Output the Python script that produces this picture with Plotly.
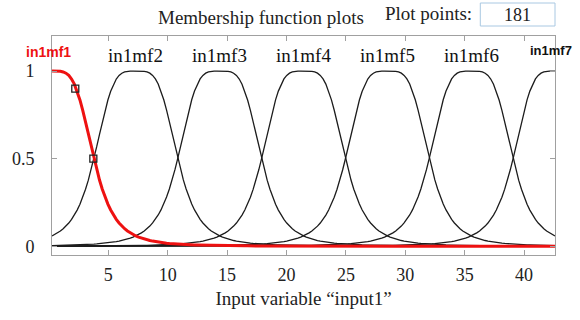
import numpy as np
import plotly.graph_objects as go

# ---- data ----
x_range = [0.26, 42.6]
plot_points = 181
mf_names = ["in1mf1", "in1mf2", "in1mf3", "in1mf4", "in1mf5", "in1mf6", "in1mf7"]
mf_centers = [0.26, 7.32, 14.37, 21.43, 28.49, 35.54, 42.6]   # gbellmf c
mf_widths = [3.53, 3.53, 3.53, 3.53, 3.53, 3.53, 3.53]        # gbellmf a
mf_slopes = [2, 2, 2, 2, 2, 2, 2]                             # gbellmf b
handle_x = [2.22, 3.74]
handle_y = [0.9, 0.5]
x_ticks = [5, 10, 15, 20, 25, 30, 35, 40]
y_ticks = [0, 0.5, 1]
y_ticktext = ["0", "0.5", "1"]

# ---- layout geometry (pixels) ----
W, H = 580, 320
L, R, T, B = 50, 25, 36, 65
PL, PR, PT, PB = L, W - R, T, H - B


def px(xp):
    return (xp - PL) / (PR - PL)


def py(yp):
    return (PB - yp) / (PB - PT)


SERIF = "Liberation Serif, Times New Roman, serif"
SANS = "Liberation Sans, Arial, sans-serif"

xs = np.linspace(x_range[0], x_range[1], plot_points)


def gbell(x, a, b, c):
    return 1.0 / (1.0 + np.abs((x - c) / a) ** (2 * b))


fig = go.Figure()
for i in range(1, 7):
    fig.add_trace(go.Scatter(
        x=xs, y=gbell(xs, mf_widths[i], mf_slopes[i], mf_centers[i]),
        mode="lines", line=dict(color="#1c1c1c", width=1.3),
        hoverinfo="skip", showlegend=False))

fig.add_trace(go.Scatter(
    x=xs, y=gbell(xs, mf_widths[0], mf_slopes[0], mf_centers[0]),
    mode="lines", line=dict(color="#ee1111", width=3),
    hoverinfo="skip", showlegend=False))

fig.add_trace(go.Scatter(
    x=handle_x, y=handle_y, mode="markers",
    marker=dict(symbol="square-open", size=7, color="#222",
                line=dict(width=1.3, color="#222")),
    hoverinfo="skip", showlegend=False))

annotations = []
for i in range(1, 6):
    annotations.append(dict(
        x=mf_centers[i], y=1.09, xref="x", yref="y", text=mf_names[i],
        showarrow=False, font=dict(family=SERIF, size=19, color="#111"),
        xanchor="center", yanchor="middle"))
annotations.append(dict(
    x=mf_centers[0], y=1.11, xref="x", yref="y", text="<b>" + mf_names[0] + "</b>",
    showarrow=False, font=dict(family=SANS, size=14, color="#ee1111"),
    xanchor="center", yanchor="middle", xshift=-4))
annotations.append(dict(
    x=px(574), y=py(50), xref="paper", yref="paper", text="<b>" + mf_names[6] + "</b>",
    showarrow=False, font=dict(family=SANS, size=13, color="#111"),
    xanchor="right", yanchor="middle"))

# header texts
annotations.append(dict(
    x=px(260), y=py(18), xref="paper", yref="paper",
    text="Membership function plots", showarrow=False,
    font=dict(family=SERIF, size=19, color="#222"),
    xanchor="center", yanchor="middle"))
annotations.append(dict(
    x=px(428), y=py(14), xref="paper", yref="paper",
    text="Plot points:", showarrow=False,
    font=dict(family=SERIF, size=19, color="#222"),
    xanchor="center", yanchor="middle"))
annotations.append(dict(
    x=px(517), y=py(15), xref="paper", yref="paper",
    text=str(plot_points), showarrow=False,
    font=dict(family=SERIF, size=18, color="#222"),
    xanchor="center", yanchor="middle"))

shapes = [dict(type="rect", xref="paper", yref="paper",
               x0=px(480), x1=px(555), y0=py(26), y1=py(3),
               line=dict(color="#a9c8e2", width=1), fillcolor="white")]

fig.update_layout(
    width=W, height=H,
    margin=dict(l=L, r=R, t=T, b=B),
    paper_bgcolor="white", plot_bgcolor="white",
    annotations=annotations, shapes=shapes,
    xaxis=dict(range=x_range, tickvals=x_ticks, ticks="inside", ticklen=5,
               tickcolor="#a0a0a0", showline=True, linecolor="#a0a0a0",
               linewidth=1, mirror="ticks", showgrid=False, zeroline=False,
               tickfont=dict(family=SERIF, size=18, color="#222"),
               ticklabelstandoff=3,
               title=dict(text="Input variable “input1”", standoff=8,
                          font=dict(family=SERIF, size=19, color="#222"))),
    yaxis=dict(range=[-0.05, 1.2], tickvals=y_ticks, ticktext=y_ticktext,
               ticks="inside", ticklen=5, tickcolor="#a0a0a0", showline=True,
               linecolor="#a0a0a0", linewidth=1, mirror="ticks",
               showgrid=False, zeroline=False,
               tickfont=dict(family=SERIF, size=18, color="#222"),
               ticklabelstandoff=13),
)

fig.write_html(
    "out.html",
    config={"displayModeBar": False, "staticPlot": True},
    post_script="document.body.style.margin='0';document.body.style.overflow='hidden';",
)
